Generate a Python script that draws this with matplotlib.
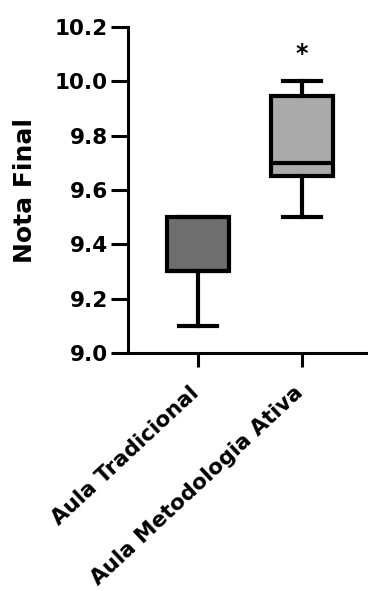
import matplotlib
matplotlib.use("Agg")
import matplotlib.pyplot as plt
from matplotlib.transforms import ScaledTranslation

plt.rcParams['font.family'] = ['DejaVu Sans']

categories = ["Aula Tradicional", "Aula Metodologia Ativa"]
whislo = [9.1, 9.5]
q1 = [9.3, 9.65]
med = [9.3, 9.7]
q3 = [9.5, 9.945]
whishi = [9.5, 10.0]
fills = ["#6e6e6e", "#aaaaaa"]
yticks = [9.0, 9.2, 9.4, 9.6, 9.8, 10.0, 10.2]
signif = ["", "*"]
signif_y = [None, 10.1]

fig = plt.figure(figsize=(3.68, 5.91), dpi=100)
ax = fig.add_axes([0.348, 0.403, 0.652, 0.551])

stats = []
for i, c in enumerate(categories):
    stats.append(dict(label=c, whislo=whislo[i], q1=q1[i], med=med[i], q3=q3[i], whishi=whishi[i], fliers=[]))

bp = ax.bxp(stats, positions=[0, 1], widths=0.6, patch_artist=True, showfliers=False,
            boxprops=dict(linewidth=3.0, edgecolor='black'),
            medianprops=dict(linewidth=3.0, color='black', solid_capstyle='butt'),
            whiskerprops=dict(linewidth=3.0, color='black'),
            capprops=dict(linewidth=3.0, color='black'),
            capwidths=0.37)
for p, f in zip(bp['boxes'], fills):
    p.set_facecolor(f)
    p.set_joinstyle('miter')

for i, s in enumerate(signif):
    if s:
        ax.text(i, signif_y[i], s, ha='center', va='center', fontsize=17, fontweight='bold')

ax.set_ylim(9.0, 10.2)
ax.set_xlim(-0.673, 1.635)
ax.set_yticks(yticks)
ax.set_yticklabels([f"{v:.1f}" for v in yticks], fontsize=15.5, fontweight='bold')
ax.set_xticks([0, 1])
ax.set_xticklabels(categories, rotation=43, ha='right', va='top', rotation_mode='anchor',
                   fontsize=15.5, fontweight='bold')
ax.set_ylabel("Nota Final", fontsize=18, fontweight='bold', labelpad=12.5)

for sp in ['top', 'right']:
    ax.spines[sp].set_visible(False)
for sp in ['left', 'bottom']:
    ax.spines[sp].set_linewidth(2.2)
ax.tick_params(axis='y', length=12, width=2.2, pad=2.5)
ax.tick_params(axis='x', length=10, width=2.2, pad=11.5)

shift = ScaledTranslation(-9 / 100, 0, fig.dpi_scale_trans)
for lbl in ax.get_xticklabels():
    lbl.set_transform(lbl.get_transform() + shift)

fig.savefig("out.png", dpi=100)
